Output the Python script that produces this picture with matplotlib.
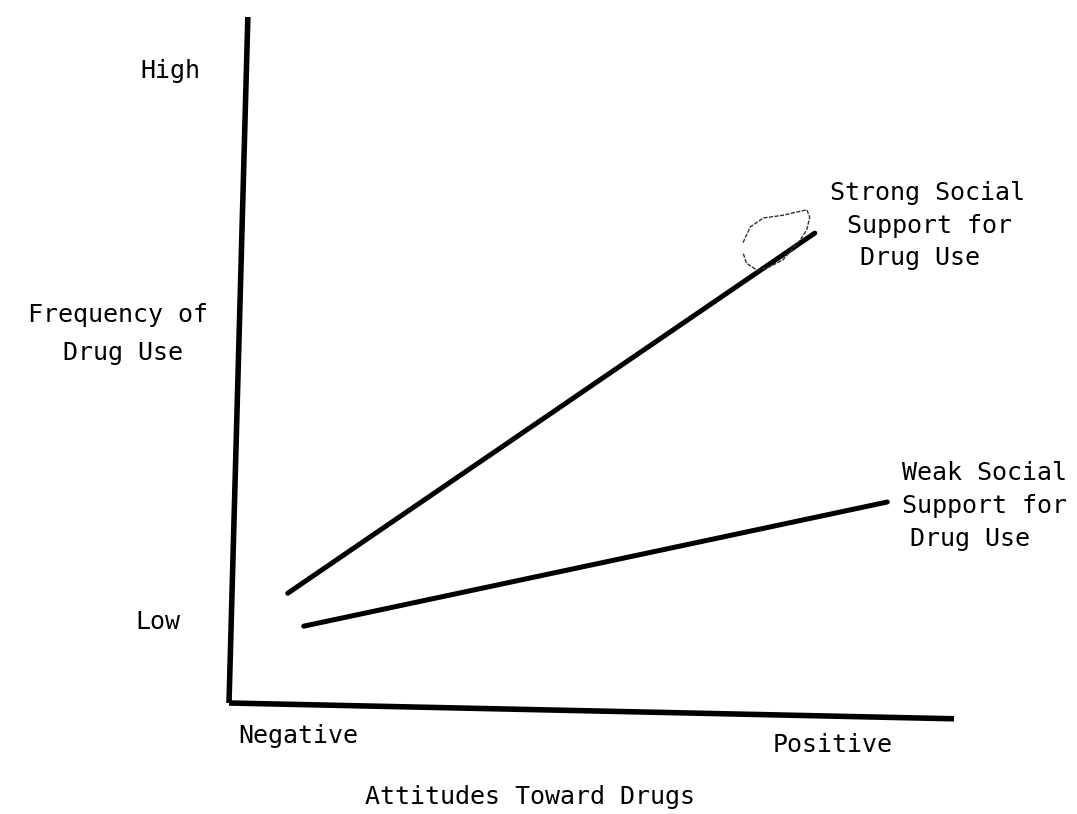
import matplotlib
matplotlib.use("Agg")
import matplotlib.pyplot as plt

'''
Data (attitude 0-100 along x, frequency 0-100 along y)
'''
strong_x = [8.1, 80.8]
strong_y = [16.0, 68.5]
weak_x = [10.3, 90.8]
weak_y = [11.2, 29.3]

# hand drawn axes are slightly slanted
yaxis_x = [0, 2.6]
yaxis_y = [0, 100]
xaxis_x = [0, 100]
xaxis_y = [0, -2.3]

# pencil scribble on the scan near the end of the strong line
blob_x = [70.9, 71.9, 73.7, 76.4, 79.7, 80.1, 79.7, 78.8, 76.4, 74.6, 72.8, 71.4, 70.9]
blob_y = [67.1, 69.4, 70.7, 71.1, 71.9, 70.8, 69.0, 67.5, 64.6, 63.6, 63.1, 64.1, 65.6]

W, H = 1077, 814
fig = plt.figure(figsize=(W / 100, H / 100), dpi=100)
fig.patch.set_facecolor('white')

# axes placed so the origin sits at the corner of the drawing
ax = fig.add_axes([229 / W, 1 - 703 / H, 725 / W, 686 / H])
ax.set_xlim(0, 100)
ax.set_ylim(0, 100)
ax.axis('off')

lw = 4.0
ax.plot(yaxis_x, yaxis_y, color='black', lw=lw, solid_capstyle='butt', clip_on=False)
ax.plot(xaxis_x, xaxis_y, color='black', lw=lw, solid_capstyle='butt', clip_on=False)
ax.plot(strong_x, strong_y, color='black', lw=3.6, solid_capstyle='round', clip_on=False)
ax.plot(weak_x, weak_y, color='black', lw=3.6, solid_capstyle='round', clip_on=False)
ax.plot(blob_x, blob_y, color='#333333', lw=1.0, ls=(0, (3, 1)), clip_on=False)

font = dict(family='DejaVu Sans Mono', fontsize=18, color='black', va='baseline', ha='left')


def label(x, y, s):
    # x, y in pixels from the top left of the image
    fig.text(x / W, 1 - y / H, s, **font)


label(140, 78, 'High')
label(28, 322, 'Frequency of')
label(63, 360, 'Drug Use')
label(135, 629, 'Low')
label(238, 743, 'Negative')
label(773, 752, 'Positive')
label(365, 804, 'Attitudes Toward Drugs')

label(830, 200, 'Strong Social')
label(847, 233, 'Support for')
label(860, 265, 'Drug Use')

label(902, 480, 'Weak Social')
label(902, 513, 'Support for')
label(910, 546, 'Drug Use')

fig.savefig('out.png', dpi=100, facecolor='white')
